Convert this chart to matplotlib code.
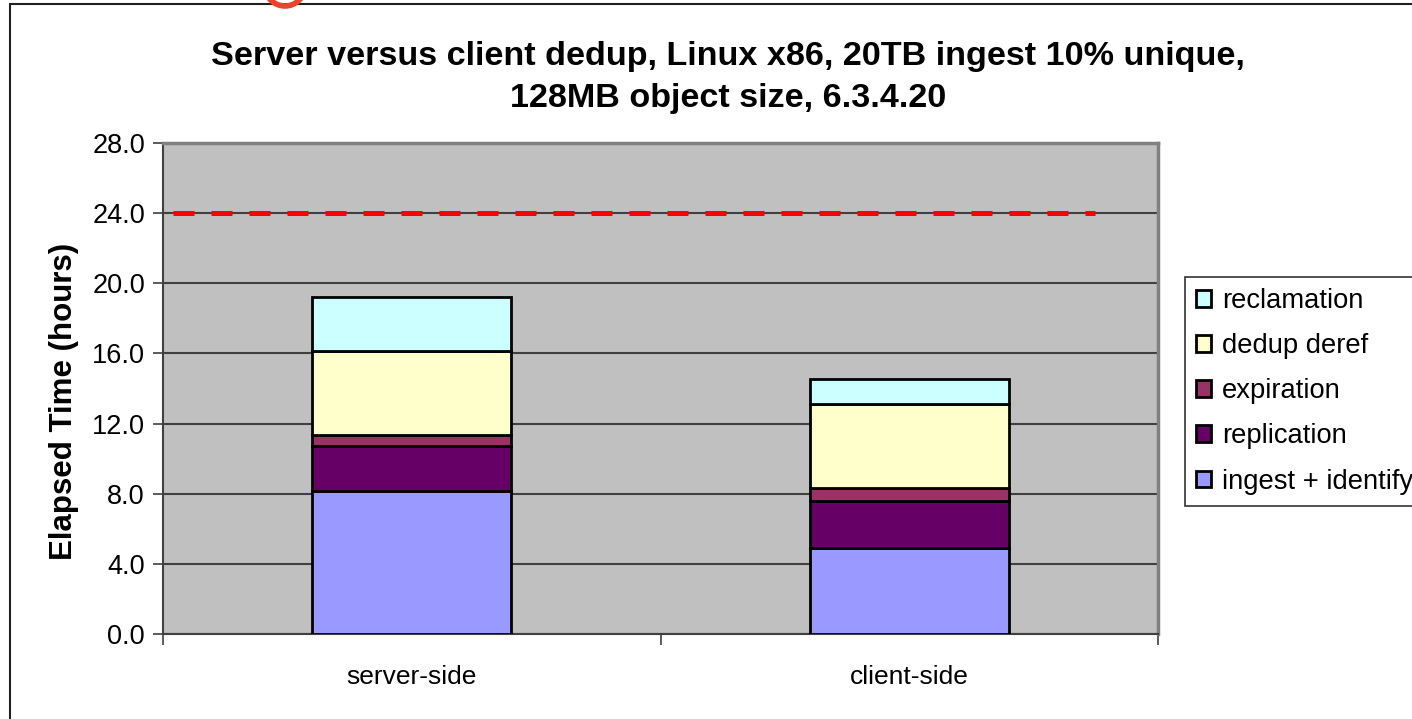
import matplotlib
matplotlib.use("Agg")
import matplotlib.pyplot as plt
from matplotlib.patches import Rectangle, Ellipse
import numpy as np

plt.rcParams['font.family'] = ['Liberation Sans', 'DejaVu Sans']

# donnees (heures)
categories = ['server-side', 'client-side']
series_names = ['ingest + identify', 'replication', 'expiration', 'dedup deref', 'reclamation']
ingest = [8.17, 4.91]
replication = [2.57, 2.69]
expiration = [0.63, 0.72]
dedup_deref = [4.76, 4.80]
reclamation = [3.09, 1.45]
limite = 24.0
yticks = [0, 4, 8, 12, 16, 20, 24, 28]

couleurs = ['#9999FF', '#660066', '#993366', '#FFFFCC', '#CCFFFF']

W, H = 1412, 719
fig = plt.figure(figsize=(W / 100, H / 100), dpi=100)
ax = fig.add_axes([163 / W, 1 - 634 / H, (1158 - 163) / W, (634 - 143) / H])
ax.set_facecolor('#C0C0C0')

x = np.arange(len(categories))
bas = np.zeros(len(categories))
for nom, vals, c in zip(series_names, [ingest, replication, expiration, dedup_deref, reclamation], couleurs):
    ax.bar(x, vals, width=0.4, bottom=bas, color=c, edgecolor='black', linewidth=2, label=nom, zorder=3)
    bas += np.array(vals)

# ligne limite 24h
ax.plot([-0.5, 1.373], [limite, limite], color='#FF0000', linewidth=3.6,
        linestyle=(5.6, (4.2, 3.4)), dash_capstyle='butt', zorder=4)

ax.set_xlim(-0.5, 1.5)
ax.set_ylim(0, 28)
ax.set_yticks(yticks)
ax.set_yticklabels([f'{v:.1f}' for v in yticks], fontsize=19.5)
ax.yaxis.grid(True, color='#404040', linewidth=1.5, zorder=1)
ax.set_axisbelow(True)

ax.set_xticks(x)
ax.set_xticklabels(categories, fontsize=19)
ax.tick_params(axis='x', length=0, pad=22)
ax.set_xticks([-0.5, 0.5, 1.5], minor=True)
ax.tick_params(axis='x', which='minor', length=8, width=1.2, color='#404040', direction='out')
ax.tick_params(axis='y', length=7, width=1.2, color='#404040', direction='out', pad=6)

for s in ['left', 'bottom']:
    ax.spines[s].set_color('#404040')
    ax.spines[s].set_linewidth(1.5)
for s in ['top', 'right']:
    ax.spines[s].set_color('#808080')
    ax.spines[s].set_linewidth(2.5)

ax.set_ylabel('Elapsed Time (hours)', fontsize=22.5, fontweight='bold')
ax.yaxis.set_label_coords(-0.084, 0.4735)

fig.text(728 / W, 1 - 56 / H, 'Server versus client dedup, Linux x86, 20TB ingest 10% unique,',
         ha='center', va='center', fontsize=24.6, fontweight='bold')
fig.text(728 / W, 1 - 98 / H, '128MB object size, 6.3.4.20',
         ha='center', va='center', fontsize=24.6, fontweight='bold')

handles, labels = ax.get_legend_handles_labels()
leg = fig.legend(handles[::-1], labels[::-1], loc='upper left',
                 bbox_to_anchor=(1185 / W, 1 - 277 / H), borderaxespad=0,
                 fontsize=19.7, frameon=True, fancybox=False, edgecolor='black',
                 handlelength=0.55, handleheight=0.55, handletextpad=0.4,
                 labelspacing=0.7, borderpad=0.4)
leg.get_frame().set_linewidth(1.2)

# cadre exterieur et bout de forme rouge en haut
fig.patches.append(Rectangle((10 / W, -0.1), 1.2, 1 - 4 / H + 0.1, transform=fig.transFigure,
                             fill=False, edgecolor='#202020', linewidth=1.5))
fig.patches.append(Ellipse((285 / W, 1 + 14 / H), 40 / W, 40 / H, transform=fig.transFigure,
                           fill=False, edgecolor='#E8452C', linewidth=4))

fig.savefig('out.png', dpi=100)
